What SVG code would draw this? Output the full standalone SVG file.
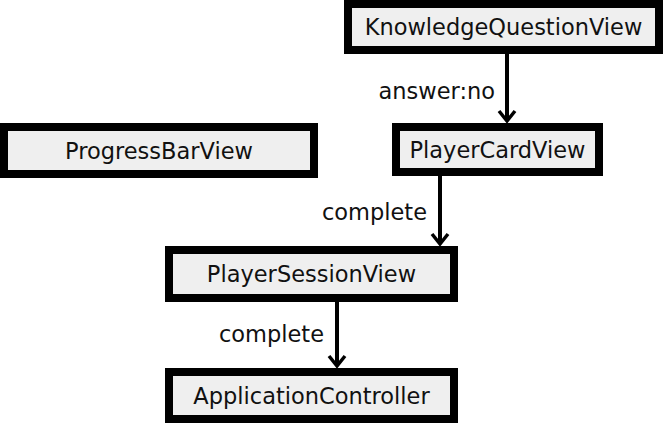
<svg xmlns="http://www.w3.org/2000/svg" width="664" height="425" viewBox="0 0 664 425">
<style>
.box{fill:#efefef;stroke:#000;stroke-width:8}
.lbl{font-family:"DejaVu Sans",sans-serif;font-size:22.5px;fill:#111}
.nt{text-anchor:middle;dominant-baseline:central}
.el{text-anchor:end}
.edge{stroke:#000;stroke-width:4;fill:none}
</style>
<defs>
<marker id="arr" viewBox="0 0 20 20" refX="12" refY="10" markerWidth="20" markerHeight="20" markerUnits="userSpaceOnUse" orient="auto">
<path d="M2,2 L12,10 L2,18" fill="none" stroke="#000" stroke-width="3.5"/>
</marker>
</defs>
<g id="connectors">
<line class="edge" x1="507" y1="54" x2="507" y2="121" marker-end="url(#arr)"/>
<text class="lbl el" x="495" y="99">answer:no</text>
<line class="edge" x1="440" y1="176" x2="440" y2="244" marker-end="url(#arr)"/>
<text class="lbl el" x="427" y="220">complete</text>
<line class="edge" x1="337" y1="302" x2="337" y2="366" marker-end="url(#arr)"/>
<text class="lbl el" x="324" y="342">complete</text>
</g>
<g id="KnowledgeQuestionView">
<rect class="box" x="348" y="4" width="311" height="46"/>
<text class="lbl nt" x="503.5" y="27">KnowledgeQuestionView</text>
</g>
<g id="PlayerCardView">
<rect class="box" x="396" y="127" width="203" height="45"/>
<text class="lbl nt" x="497.5" y="150">PlayerCardView</text>
</g>
<g id="ProgressBarView">
<rect class="box" x="4" y="127" width="310" height="47"/>
<text class="lbl nt" x="159" y="151">ProgressBarView</text>
</g>
<g id="PlayerSessionView">
<rect class="box" x="169" y="250" width="285" height="48"/>
<text class="lbl nt" x="311.5" y="274">PlayerSessionView</text>
</g>
<g id="ApplicationController">
<rect class="box" x="169" y="372" width="285" height="47"/>
<text class="lbl nt" x="311.5" y="396">ApplicationController</text>
</g>
</svg>
